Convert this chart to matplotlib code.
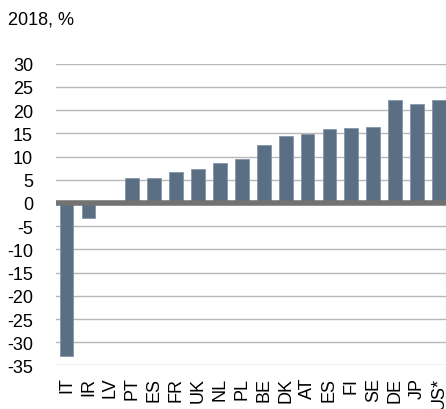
import matplotlib
matplotlib.use("Agg")
import matplotlib.pyplot as plt

# Données
pays = ['IT', 'IR', 'LV', 'PT', 'ES', 'FR', 'UK', 'NL', 'PL',
        'BE', 'DK', 'AT', 'ES', 'FI', 'SE', 'DE', 'JP', 'US*']
valeurs = [-32.9, -3.3, 0.0, 5.4, 5.4, 6.7, 7.4, 8.6, 9.5,
           12.5, 14.4, 14.8, 15.9, 16.2, 16.3, 22.1, 21.3, 22.1]
graduations = list(range(-35, 31, 5))

plt.rcParams['font.family'] = ['Liberation Sans', 'DejaVu Sans']

fig = plt.figure(figsize=(4.46, 4.10), dpi=100)
ax = fig.add_axes([0.1256, 0.1063, 0.8744, 0.7357])

# lignes de grille horizontales
for g in graduations:
    if g != 0:
        ax.axhline(g, color='#b8b8b8', linewidth=1, zorder=0)

x = range(len(pays))
ax.bar(x, valeurs, width=0.63, color='#5a6e84',
       edgecolor='#8496aa', linewidth=0.6, zorder=2)

# axe zéro épais
ax.axhline(0, color='#727272', linewidth=4, zorder=3)

ax.set_ylim(-35, 30)
ax.set_xlim(-0.48, 17.32)
ax.set_yticks(graduations)
ax.set_yticklabels([str(g) for g in graduations], fontsize=13)
ax.set_xticks(list(x))
ax.set_xticklabels(pays, rotation=90, fontsize=13, va='top')
ax.tick_params(axis='y', length=0, pad=16.5)
ax.tick_params(axis='x', length=0, pad=8)
for s in ax.spines.values():
    s.set_visible(False)

fig.text(8 / 446, 1 - 20 / 410, "2018, %", fontsize=13, va='center', ha='left')

fig.savefig("out.png", dpi=100)
